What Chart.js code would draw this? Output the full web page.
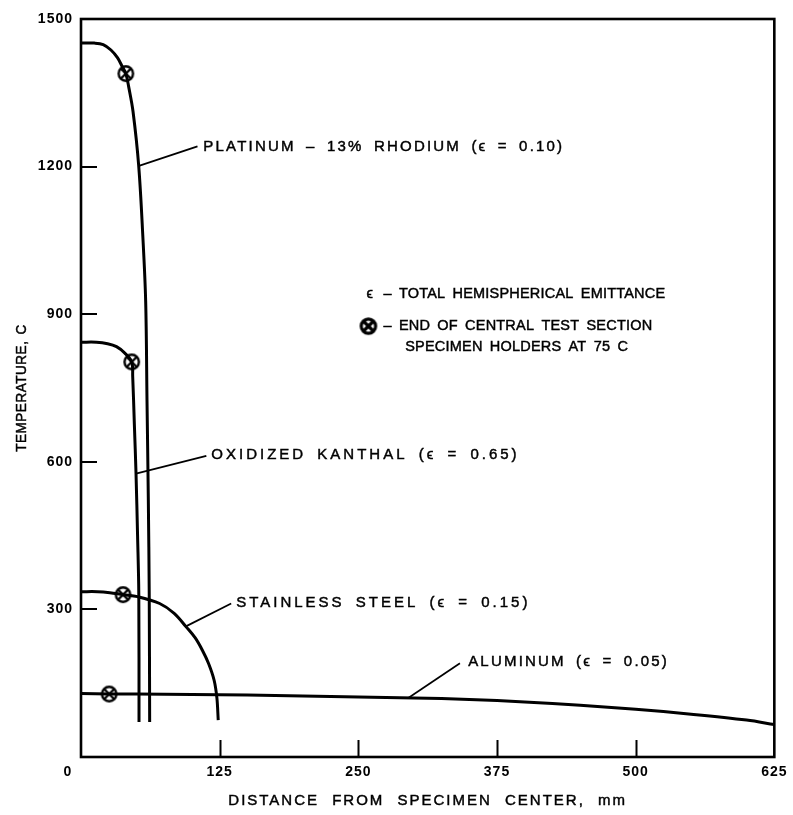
<!DOCTYPE html>
<html><head><meta charset="utf-8">
<script src="https://cdn.jsdelivr.net/npm/chart.js@4/dist/chart.umd.min.js"></script>
<style>html,body{margin:0;padding:0;background:#fff}#wrap{width:793px;height:815px}</style>
</head><body><div id="wrap"><canvas id="c" width="793" height="815"></canvas></div>
<script>
// ---- data (distance in mm, temperature in C) ----
const xTicks = [0, 125, 250, 375, 500, 625];
const yTicks = [0, 300, 600, 900, 1200, 1500];

const platinumX = [0, 12, 20, 27, 33, 37, 40.4, 43, 46.9, 52, 55.7, 58.3, 59.5, 60.7, 61.5, 61.9];
const platinumT = [1451, 1451, 1448, 1437, 1421, 1404, 1389, 1362, 1312, 1202, 1060, 926, 724, 521, 332, 71];

const kanthalX = [0, 14, 24, 32, 39.5, 45.7, 46.6, 48.1, 49.6, 51, 52.1, 52.3];
const kanthalT = [843, 843, 840, 834, 821, 803, 774, 676, 576, 450, 332, 71];

const stainlessX = [0, 15, 26, 37.9, 51, 70.9, 84, 95, 103, 109.4, 115, 120, 122.5, 123.7];
const stainlessT = [336, 336, 334, 330, 326, 312, 292, 264, 242, 217, 190, 156, 120, 75];

const aluminumX = [0, 25.4, 50, 100, 150, 200, 250, 300, 350, 400, 450, 500, 550, 600, 625];
const aluminumT = [129, 128, 128, 127, 126, 124, 122, 120, 117, 112, 105, 97, 87, 75, 66];

const markerX = [40.4, 45.7, 37.9, 25.4];
const markerT = [1389, 803, 330, 128];

// ---- annotations ----
const xTitle = 'DISTANCE FROM SPECIMEN CENTER, mm';
const yTitle = 'TEMPERATURE, C';
const curveLabels = ['PLATINUM – 13% RHODIUM (ϵ = 0.10)', 'OXIDIZED KANTHAL (ϵ = 0.65)', 'STAINLESS STEEL (ϵ = 0.15)', 'ALUMINUM (ϵ = 0.05)'];
const labelAtX = [110.3, 117.5, 139.9, 349];
const labelAtT = [1241, 614, 314, 193];
const labelSpacing = [2.2, 3.0, 3.0, 2.2];
const leaderFromX = [52.9, 49.6, 95, 295];
const leaderFromT = [1202, 576, 266, 120];
const leaderToX = [105, 113, 135.4, 341.6];
const leaderToT = [1241, 612, 312, 190.5];

const legendTexts = ['ϵ', '– TOTAL HEMISPHERICAL EMITTANCE', '– END OF CENTRAL TEST SECTION', 'SPECIMEN HOLDERS AT 75 C'];
const legendAtX = [257.4, 272.6, 272.6, 292.3];
const legendAtT = [940.6, 940.6, 875.7, 833.2];
const legendMarkerX = 259.1, legendMarkerT = 875.7;

function makeMarker(r, lw) {
  const s = Math.ceil(2 * r + lw + 2);
  const cv = document.createElement('canvas');
  cv.width = cv.height = s;
  const g = cv.getContext('2d');
  const c = s / 2;
  g.fillStyle = '#fff';
  g.beginPath(); g.arc(c, c, r, 0, Math.PI * 2); g.fill();
  g.lineWidth = lw; g.strokeStyle = '#000'; g.stroke();
  const d = r * 0.66;
  g.beginPath();
  g.moveTo(c - d, c - d); g.lineTo(c + d, c + d);
  g.moveTo(c + d, c - d); g.lineTo(c - d, c + d);
  g.stroke();
  return cv;
}
const markerImg = makeMarker(7.2, 2.4);
const legendMarkerImg = makeMarker(7.2, 3.2);

const zip = (xs, ys) => xs.map((v, i) => ({x: v, y: ys[i]}));
const curve = (label, xs, ys) => ({
  label, data: zip(xs, ys), showLine: true, borderColor: '#000', borderWidth: 3,
  pointRadius: 0, tension: 0.35, fill: false
});

const datasets = [
  curve('Platinum – 13% Rhodium', platinumX, platinumT),
  curve('Oxidized Kanthal', kanthalX, kanthalT),
  curve('Stainless Steel', stainlessX, stainlessT),
  curve('Aluminum', aluminumX, aluminumT)
];
leaderFromX.forEach((v, i) => datasets.push({
  label: 'leader' + i, data: [{x: v, y: leaderFromT[i]}, {x: leaderToX[i], y: leaderToT[i]}],
  showLine: true, borderColor: '#000', borderWidth: 1.7, pointRadius: 0, tension: 0
}));
datasets.push({
  label: 'End of central test section', data: zip(markerX, markerT), showLine: false,
  pointStyle: markerImg, pointRadius: 8
});

const FONT = '"Liberation Sans", Arial, "DejaVu Sans", sans-serif';

function heavyText(ctx, t, px, py) {
  ctx.fillText(t, px, py);
  ctx.strokeText(t, px, py);
}

const deco = {
  id: 'deco',
  beforeDraw(chart) {
    chart.ctx.letterSpacing = '1px';
  },
  afterDraw(chart) {
    const {ctx, chartArea: a, scales: {x, y}} = chart;
    ctx.save();
    ctx.strokeStyle = '#000';
    ctx.lineWidth = 2.6;
    ctx.strokeRect(a.left, a.top, a.right - a.left, a.bottom - a.top);
    ctx.lineWidth = 2;
    ctx.beginPath();
    xTicks.forEach(v => {
      if (v > xTicks[0] && v < xTicks[xTicks.length - 1]) {
        const p = Math.round(x.getPixelForValue(v)) + 0.5;
        ctx.moveTo(p, a.bottom); ctx.lineTo(p, a.bottom - 17);
      }
    });
    yTicks.forEach(v => {
      if (v > yTicks[0] && v < yTicks[yTicks.length - 1]) {
        const p = Math.round(y.getPixelForValue(v));
        ctx.moveTo(a.left, p); ctx.lineTo(a.left + 16, p);
      }
    });
    ctx.stroke();

    ctx.fillStyle = '#000';
    ctx.strokeStyle = '#000';
    ctx.lineWidth = 0.45;
    ctx.textBaseline = 'middle';

    // axis titles
    ctx.font = '15px ' + FONT;
    ctx.textAlign = 'center';
    ctx.letterSpacing = '2px';
    ctx.wordSpacing = '7px';
    heavyText(ctx, xTitle, (a.left + a.right) / 2, 801);
    ctx.save();
    ctx.translate(22, (a.top + a.bottom) / 2);
    ctx.rotate(-Math.PI / 2);
    ctx.scale(0.9, 1);
    ctx.letterSpacing = '0.6px';
    ctx.wordSpacing = '2px';
    heavyText(ctx, yTitle, 0, 0);
    ctx.restore();

    // curve labels
    ctx.textAlign = 'left';
    ctx.wordSpacing = '4px';
    curveLabels.forEach((t, i) => {
      ctx.letterSpacing = labelSpacing[i] + 'px';
      heavyText(ctx, t, x.getPixelForValue(labelAtX[i]), y.getPixelForValue(labelAtT[i]));
    });

    // legend
    ctx.font = '14.5px ' + FONT;
    ctx.letterSpacing = '0.2px';
    ctx.wordSpacing = '3px';
    legendTexts.forEach((t, i) => heavyText(ctx, t, x.getPixelForValue(legendAtX[i]), y.getPixelForValue(legendAtT[i])));
    const mx = x.getPixelForValue(legendMarkerX), my = y.getPixelForValue(legendMarkerT);
    ctx.drawImage(legendMarkerImg, mx - legendMarkerImg.width / 2, my - legendMarkerImg.height / 2);
    ctx.restore();
  }
};

new Chart(document.getElementById('c'), {
  type: 'scatter',
  data: {datasets},
  plugins: [deco],
  options: {
    responsive: false, animation: false, devicePixelRatio: 1,
    layout: {padding: {left: 0, right: 15, top: 19, bottom: 0}},
    plugins: {legend: {display: false}, tooltip: {enabled: false}},
    scales: {
      x: {
        type: 'linear', min: 0, max: 625,
        afterBuildTicks: s => { s.ticks = xTicks.map(v => ({value: v})); },
        afterFit: s => { s.height = 58; },
        grid: {display: false, drawTicks: false}, border: {display: false},
        ticks: {color: '#000', font: {family: FONT, size: 14, weight: 'bold'}, padding: 7, maxRotation: 0, autoSkip: false,
                callback: v => v === 0 ? '0\u2007\u2007\u2007' : String(v)},
        title: {display: false}
      },
      y: {
        type: 'linear', min: 0, max: 1500,
        afterBuildTicks: s => { s.ticks = yTicks.map(v => ({value: v})); },
        afterFit: s => { s.width = 81; },
        grid: {display: false, drawTicks: false}, border: {display: false},
        ticks: {color: '#000', font: {family: FONT, size: 14, weight: 'bold'}, padding: 8, autoSkip: false,
                callback: v => v === 0 ? '' : String(v)},
        title: {display: false}
      }
    }
  }
});
</script>
</body></html>
